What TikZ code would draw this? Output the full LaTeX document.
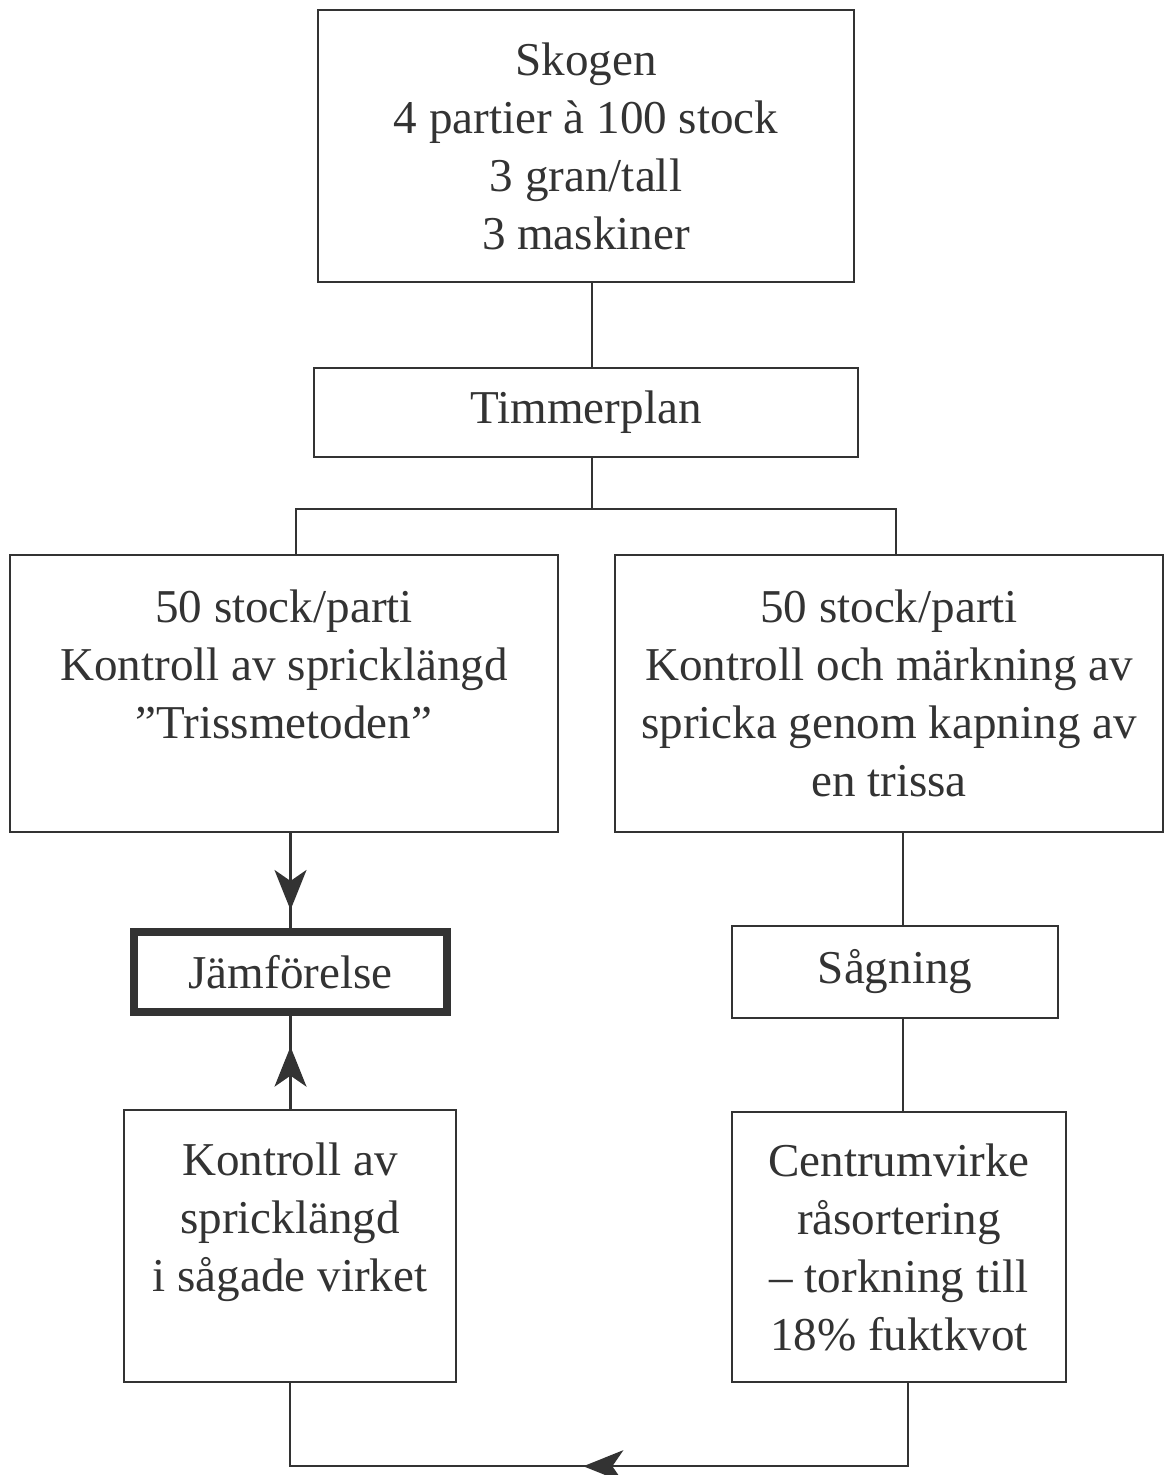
\documentclass[tikz,border=0pt]{standalone}
\usepackage{fontspec}
\setmainfont{Liberation Serif}
\usetikzlibrary{calc,arrows.meta,decorations.markings}

\begin{document}
\begin{tikzpicture}[
	line width=0.7pt, color=black!80,
	box/.style={draw, rectangle, align=center, inner sep=0pt, font=\fontsize{13.4}{16.5}\selectfont},
	bold/.style={box, line width=2.3pt},
	midarrow/.style={postaction={decorate}, decoration={markings, mark=at position #1 with {\arrow{Stealth[length=4mm,width=3.2mm,inset=1.1mm]}}}}
	]
		%%%%% START %%%%%
		\useasboundingbox (0, 0) rectangle (11.7, -14.75);
		
		\node[box, minimum width=5.36cm, minimum height=2.72cm] (skogen) at (5.86, -1.46) {Skogen\\4 partier à 100 stock\\3 gran/tall\\3 maskiner};
		\node[box, minimum width=5.44cm, minimum height=0.89cm] (timmer) at (5.86, -4.125) {Timmerplan};
		
		\node[box, minimum width=5.48cm, minimum height=2.77cm] (trissa) at (2.84, -6.935) {50 stock/parti\\Kontroll av spricklängd\\”Trissmetoden”\\\mbox{}};
		\node[box, minimum width=5.48cm, minimum height=2.77cm] (kapning) at (8.89, -6.935) {50 stock/parti\\Kontroll och märkning av\\spricka genom kapning av\\en trissa};
		
		\node[bold, minimum width=3.13cm, minimum height=0.80cm] (jamfor) at (2.905, -9.72) {Jämförelse};
		\node[box, minimum width=3.26cm, minimum height=0.92cm] (sagning) at (8.95, -9.72) {Sågning};
		
		\node[box, minimum width=3.32cm, minimum height=2.72cm] (kontroll) at (2.90, -12.46) {Kontroll av\\spricklängd\\i sågade virket\\\mbox{}};
		\node[box, minimum width=3.34cm, minimum height=2.70cm] (centrum) at (8.99, -12.47) {Centrumvirke\\råsortering\\– torkning till\\18\% fuktkvot};
		
		% grenar
		\draw ([xshift=0.06cm]skogen.south) -- ([xshift=0.06cm]timmer.north);
		\draw ([xshift=0.06cm]timmer.south) -- ++(0, -0.51) coordinate (gren);
		\draw (gren) -| ([xshift=0.12cm]trissa.north);
		\draw (gren) -| ([xshift=0.07cm]kapning.north);
		
		% vänster sida
		\draw[midarrow=0.81] (jamfor.north |- trissa.south) -- (jamfor.north);
		\draw[midarrow=0.67] (jamfor.south |- kontroll.north) -- (jamfor.south);
		
		% höger sida
		\draw ([xshift=0.08cm]sagning.north |- kapning.south) -- ([xshift=0.08cm]sagning.north);
		\draw ([xshift=0.08cm]sagning.south) -- ([xshift=0.08cm]sagning.south |- centrum.north);
		
		% tillbaka
		\draw[midarrow=0.52] ([xshift=0.09cm]centrum.south) -- ++(0, -0.83) -| (kontroll.south);
		
		%%%%% END %%%%%
	\end{tikzpicture}
\end{document}
